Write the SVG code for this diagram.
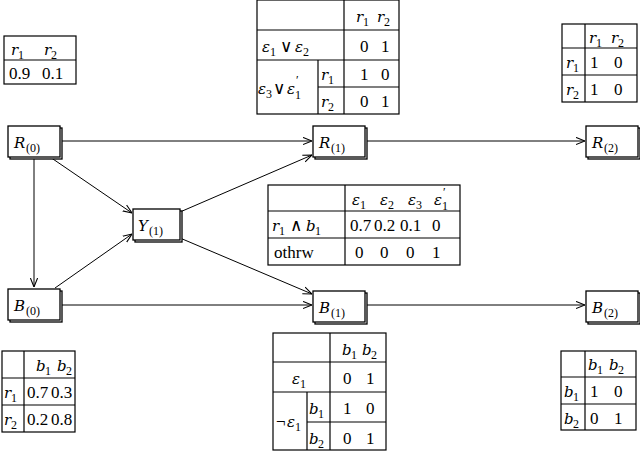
<svg xmlns="http://www.w3.org/2000/svg" width="640" height="452" viewBox="0 0 640 452">
<style>
text{font-family:"Liberation Serif","DejaVu Serif",serif;font-size:17px;fill:#000}
.i{font-style:italic;font-family:"DejaVu Serif","Liberation Serif",serif;font-size:15px}
.s{font-size:12px}
.n rect{fill:#fff;stroke:#000;stroke-width:1.3}
.sh{fill:#000}
.t{fill:none;stroke:#000;stroke-width:1.2}
#edges line{stroke:#000;stroke-width:1}
</style>
<defs><marker id="a" viewBox="0 0 10 10" refX="10" refY="5" markerWidth="9" markerHeight="9" orient="auto" markerUnits="userSpaceOnUse"><path d="M0,1 L10,5 L0,9" fill="none" stroke="#000" stroke-width="1.2"/></marker></defs>
<g id="edges">
<line x1="60" y1="141" x2="312" y2="141" marker-end="url(#a)"/>
<line x1="365" y1="141" x2="585" y2="141" marker-end="url(#a)"/>
<line x1="34" y1="157" x2="34" y2="287" marker-end="url(#a)"/>
<line x1="50" y1="157" x2="132" y2="213" marker-end="url(#a)"/>
<line x1="55" y1="288" x2="132" y2="234" marker-end="url(#a)"/>
<line x1="180" y1="212" x2="312" y2="155" marker-end="url(#a)"/>
<line x1="180" y1="238" x2="312" y2="294" marker-end="url(#a)"/>
<line x1="60" y1="305" x2="312" y2="305" marker-end="url(#a)"/>
<line x1="365" y1="305" x2="585" y2="305" marker-end="url(#a)"/>
</g>
<g id="R0" class="n"><rect class="sh" x="10" y="128" width="52" height="31"/><rect x="8" y="126" width="52" height="31"/><text x="14" y="148" class="i">R</text><text x="26" y="152" class="s">(0)</text></g>
<g id="R1" class="n"><rect class="sh" x="315" y="128" width="52" height="31"/><rect x="313" y="126" width="52" height="31"/><text x="319" y="148" class="i">R</text><text x="331" y="152" class="s">(1)</text></g>
<g id="R2" class="n"><rect class="sh" x="588" y="128" width="52" height="31"/><rect x="586" y="126" width="52" height="31"/><text x="592" y="148" class="i">R</text><text x="604" y="152" class="s">(2)</text></g>
<g id="Y1" class="n"><rect class="sh" x="135" y="211" width="47" height="31"/><rect x="133" y="209" width="47" height="31"/><text x="138" y="231" class="i">Y</text><text x="149" y="235" class="s">(1)</text></g>
<g id="B0" class="n"><rect class="sh" x="10" y="291" width="52" height="31"/><rect x="8" y="289" width="52" height="31"/><text x="14" y="311" class="i">B</text><text x="26" y="315" class="s">(0)</text></g>
<g id="B1" class="n"><rect class="sh" x="315" y="293" width="52" height="31"/><rect x="313" y="291" width="52" height="31"/><text x="319" y="313" class="i">B</text><text x="331" y="317" class="s">(1)</text></g>
<g id="B2" class="n"><rect class="sh" x="588" y="293" width="52" height="31"/><rect x="586" y="291" width="52" height="31"/><text x="592" y="313" class="i">B</text><text x="604" y="317" class="s">(2)</text></g>

<g id="tR0">
<rect class="t" x="4" y="36" width="72" height="48"/><line class="t" x1="4" y1="60" x2="76" y2="60"/>
<text x="11" y="55" class="i">r</text><text x="18" y="59" class="s">1</text><text x="44" y="55" class="i">r</text><text x="51" y="59" class="s">2</text>
<text x="9" y="79">0.9</text><text x="42" y="79">0.1</text>
</g>
<g id="tR1">
<rect class="t" x="257" y="0" width="142" height="114"/>
<line class="t" x1="257" y1="30" x2="399" y2="30"/><line class="t" x1="257" y1="60" x2="399" y2="60"/><line class="t" x1="318" y1="87" x2="399" y2="87"/>
<line class="t" x1="344" y1="0" x2="344" y2="114"/><line class="t" x1="318" y1="60" x2="318" y2="114"/>
<text x="356" y="22" class="i">r</text><text x="363" y="26" class="s">1</text><text x="377" y="22" class="i">r</text><text x="384" y="26" class="s">2</text>
<text x="262" y="52" class="i">ε</text><text x="270" y="56" class="s">1</text><text x="280" y="52">∨</text><text x="295" y="52" class="i">ε</text><text x="303" y="56" class="s">2</text>
<text x="360" y="52">0</text><text x="381" y="52">1</text>
<text x="258" y="94" class="i">ε</text><text x="266" y="98" class="s">3</text><text x="273" y="94">∨</text><text x="287" y="94" class="i">ε</text><text x="296" y="84" class="s">′</text><text x="295" y="99" class="s">1</text>
<text x="321" y="80" class="i">r</text><text x="328" y="84" class="s">1</text><text x="360" y="80">1</text><text x="381" y="80">0</text>
<text x="321" y="107" class="i">r</text><text x="328" y="111" class="s">2</text><text x="360" y="107">0</text><text x="381" y="107">1</text>
</g>
<g id="tR2">
<rect class="t" x="562" y="24" width="75" height="78"/>
<line class="t" x1="562" y1="48" x2="637" y2="48"/><line class="t" x1="562" y1="75" x2="637" y2="75"/><line class="t" x1="585" y1="24" x2="585" y2="102"/>
<text x="589" y="43" class="i">r</text><text x="596" y="47" class="s">1</text><text x="611" y="43" class="i">r</text><text x="618" y="47" class="s">2</text>
<text x="566" y="68" class="i">r</text><text x="573" y="72" class="s">1</text><text x="590" y="68">1</text><text x="614" y="68">0</text>
<text x="566" y="95" class="i">r</text><text x="573" y="99" class="s">2</text><text x="590" y="95">1</text><text x="614" y="95">0</text>
</g>
<g id="tY">
<rect class="t" x="268" y="185" width="192" height="80"/>
<line class="t" x1="268" y1="211" x2="460" y2="211"/><line class="t" x1="268" y1="238" x2="460" y2="238"/><line class="t" x1="345" y1="185" x2="345" y2="265"/>
<text x="352" y="205" class="i">ε</text><text x="360" y="209" class="s">1</text>
<text x="380" y="205" class="i">ε</text><text x="388" y="209" class="s">2</text>
<text x="408" y="205" class="i">ε</text><text x="416" y="209" class="s">3</text>
<text x="434" y="205" class="i">ε</text><text x="443" y="196" class="s">′</text><text x="442" y="210" class="s">1</text>
<text x="272" y="231" class="i">r</text><text x="279" y="235" class="s">1</text><text x="290" y="231">∧</text><text x="306" y="231" class="i">b</text><text x="315" y="235" class="s">1</text>
<text x="350" y="231">0.7</text><text x="374" y="231">0.2</text><text x="400" y="231">0.1</text><text x="432" y="231">0</text>
<text x="274" y="258">othrw</text>
<text x="355" y="258">0</text><text x="380" y="258">0</text><text x="406" y="258">0</text><text x="432" y="258">1</text>
</g>
<g id="tB0">
<rect class="t" x="2" y="351" width="73" height="81"/>
<line class="t" x1="2" y1="378" x2="75" y2="378"/><line class="t" x1="2" y1="405" x2="75" y2="405"/><line class="t" x1="24" y1="351" x2="24" y2="432"/>
<text x="36" y="371" class="i">b</text><text x="45" y="375" class="s">1</text><text x="57" y="371" class="i">b</text><text x="66" y="375" class="s">2</text>
<text x="4" y="398" class="i">r</text><text x="11" y="402" class="s">1</text><text x="27" y="398">0.7</text><text x="51" y="398">0.3</text>
<text x="4" y="425" class="i">r</text><text x="11" y="429" class="s">2</text><text x="27" y="425">0.2</text><text x="51" y="425">0.8</text>
</g>
<g id="tB1">
<rect class="t" x="273" y="333" width="113" height="117"/>
<line class="t" x1="273" y1="362" x2="386" y2="362"/><line class="t" x1="273" y1="392" x2="386" y2="392"/><line class="t" x1="307" y1="422" x2="386" y2="422"/>
<line class="t" x1="330" y1="333" x2="330" y2="450"/><line class="t" x1="307" y1="392" x2="307" y2="450"/>
<text x="342" y="355" class="i">b</text><text x="351" y="359" class="s">1</text><text x="362" y="355" class="i">b</text><text x="371" y="359" class="s">2</text>
<text x="292" y="384" class="i">ε</text><text x="300" y="388" class="s">1</text><text x="343" y="384">0</text><text x="366" y="384">1</text>
<text x="276" y="427">¬</text><text x="287" y="427" class="i">ε</text><text x="295" y="431" class="s">1</text>
<text x="309" y="414" class="i">b</text><text x="318" y="418" class="s">1</text><text x="343" y="414">1</text><text x="366" y="414">0</text>
<text x="309" y="444" class="i">b</text><text x="318" y="448" class="s">2</text><text x="343" y="444">0</text><text x="366" y="444">1</text>
</g>
<g id="tB2">
<rect class="t" x="561" y="351" width="75" height="79"/>
<line class="t" x1="561" y1="377" x2="636" y2="377"/><line class="t" x1="561" y1="404" x2="636" y2="404"/><line class="t" x1="585" y1="351" x2="585" y2="430"/>
<text x="588" y="370" class="i">b</text><text x="597" y="374" class="s">1</text><text x="609" y="370" class="i">b</text><text x="618" y="374" class="s">2</text>
<text x="564" y="397" class="i">b</text><text x="573" y="401" class="s">1</text><text x="590" y="397">1</text><text x="614" y="397">0</text>
<text x="564" y="424" class="i">b</text><text x="573" y="428" class="s">2</text><text x="590" y="424">0</text><text x="614" y="424">1</text>
</g>
</svg>
